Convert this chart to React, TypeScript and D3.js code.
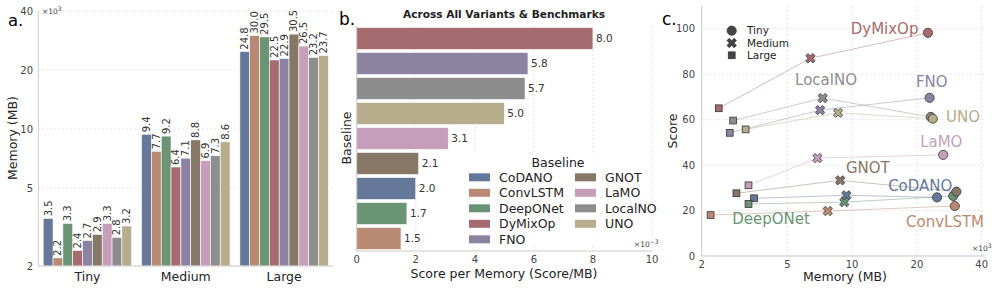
import * as d3 from "d3";

const models = ["CoDANO", "ConvLSTM", "DeepONet", "DyMixOp", "FNO", "GNOT", "LaMO", "LocalNO", "UNO"];
const colors = ["#66789a", "#b88a73", "#6b9474", "#a66b6e", "#8b83a1", "#877767", "#c59fba", "#8d8d8d", "#b5ad8b"];
const variants = ["Tiny", "Medium", "Large"];

// memory (x10^3 MB) per variant, same order as models
const memTiny = [3.5, 2.2, 3.3, 2.4, 2.7, 2.9, 3.3, 2.8, 3.2];
const memMedium = [9.4, 7.7, 9.2, 6.4, 7.1, 8.8, 6.9, 7.3, 8.6];
const memLarge = [24.8, 30.0, 29.5, 22.5, 22.9, 30.5, 26.5, 23.2, 23.7];

// score per memory (x10^-3), sorted
const effModels = ["DyMixOp", "FNO", "LocalNO", "UNO", "LaMO", "GNOT", "CoDANO", "DeepONet", "ConvLSTM"];
const effValues = [8.0, 5.8, 5.7, 5.0, 3.1, 2.1, 2.0, 1.7, 1.5];

// scores for panel c (points placed at tiny / medium / large memory)
const scoreAtTiny = [25.4, 18, 22.9, 65, 54.2, 27.6, 31.1, 59.6, 55.7];
const scoreAtMedium = [26.7, 19.8, 23.7, 87, 64.2, 33.3, 43.1, 69.5, 63];
const scoreAtLarge = [25.8, 22, 26.4, 98.2, 69.6, 28.3, 44.5, 61.2, 60.4];

// name labels in panel c: [model, memory, score]
const nameLabels: [string, number, number][] = [
  ["DyMixOp", 9.85, 99.9],
  ["LocalNO", 5.43, 77.4],
  ["FNO", 19.8, 76.7],
  ["UNO", 27.3, 61.2],
  ["LaMO", 20.7, 50.3],
  ["GNOT", 9.36, 38.7],
  ["CoDANO", 14.7, 30.8],
  ["DeepONet", 2.77, 16.3],
  ["ConvLSTM", 17.8, 15],
];

const logTicks = [2, 5, 10, 20, 40];
const effTicks = [0, 2, 4, 6, 8, 10];
const scoreTicks = [0, 20, 40, 60, 80, 100];

const FONT = "DejaVu Sans, sans-serif";
const GRID = "#e6e6e6";
const SPINE = "#cccccc";
const TICK = "#444";

const colorOf = (m: string) => colors[models.indexOf(m)];

function xMarker(s: number) {
  const a = s * 0.32;
  const L = s;
  const pts = [
    [a, L], [a, a], [L, a], [L, -a], [a, -a], [a, -L],
    [-a, -L], [-a, -a], [-L, -a], [-L, a], [-a, a], [-a, L],
  ];
  const c = Math.SQRT1_2;
  return "M" + pts.map(([x, y]) => `${(x - y) * c},${(x + y) * c}`).join("L") + "Z";
}

function Marker({ kind, x, y, fill }: { kind: number; x: number; y: number; fill: string }) {
  const st = { stroke: "#333", strokeWidth: 0.8, fill };
  if (kind === 0) return <circle cx={x} cy={y} r={4.6} {...st} />;
  if (kind === 1) return <path d={xMarker(5)} transform={`translate(${x},${y})`} {...st} />;
  return <rect x={x - 3.4} y={y - 3.4} width={6.8} height={6.8} {...st} />;
}

function PanelA() {
  const y = d3.scaleLog().domain([2, 40]).range([266, 11]);
  const x0 = d3.scaleBand().domain(variants).range([38.3, 333.3]);
  const x1 = d3.scaleBand().domain(models).range([0.05 * x0.bandwidth(), 0.95 * x0.bandwidth()]);
  const mem = [memTiny, memMedium, memLarge];
  return (
    <g>
      <text x={8} y={26} fontSize={16.5} fontFamily={FONT}>a.</text>
      {logTicks.map((t) => (
        <g key={t}>
          <line x1={38.3} x2={333} y1={y(t)} y2={y(t)} stroke={GRID} strokeDasharray="2,2" />
          <text x={33} y={y(t)} dy="0.35em" textAnchor="end" fontSize={10} fill={TICK} fontFamily={FONT}>{t}</text>
        </g>
      ))}
      <text x={42} y={14} fontSize={7.5} fill={TICK} fontFamily={FONT}>×10<tspan dy={-3} fontSize={6}>3</tspan></text>
      {variants.map((v, vi) =>
        models.map((m, mi) => {
          const val = mem[vi][mi];
          const bx = x0(v)! + x1(m)!;
          return (
            <g key={v + m}>
              <rect x={bx} y={y(val)} width={x1.bandwidth()} height={266 - y(val)} fill={colors[mi]} stroke="#fff" strokeWidth={0.6} />
              <text transform={`translate(${bx + x1.bandwidth() / 2},${y(val) - 2}) rotate(-90)`} dy="0.35em" fontSize={10} fill="#333" fontFamily={FONT}>{val.toFixed(1)}</text>
            </g>
          );
        })
      )}
      <line x1={38.3} x2={38.3} y1={11} y2={266} stroke={SPINE} />
      <line x1={38.3} x2={333} y1={266} y2={266} stroke={SPINE} />
      {variants.map((v) => (
        <text key={v} x={x0(v)! + x0.bandwidth() / 2} y={281} textAnchor="middle" fontSize={12.5} fill="#222" fontFamily={FONT}>{v}</text>
      ))}
      <text transform="translate(17,138) rotate(-90)" textAnchor="middle" fontSize={12.5} fill="#222" fontFamily={FONT}>Memory (MB)</text>
    </g>
  );
}

function PanelB() {
  const x = d3.scaleLinear().domain([0, 10]).range([356.7, 652]);
  const y = d3.scaleBand().domain(effModels).range([26, 251]).paddingInner(0.12).paddingOuter(0.06);
  const legendRows = 5;
  return (
    <g>
      <text x={339} y={25} fontSize={17} fontFamily={FONT}>b.</text>
      <text x={504} y={18} textAnchor="middle" fontSize={10.6} fontWeight="bold" fill="#222" fontFamily={FONT}>Across All Variants &amp; Benchmarks</text>
      {effTicks.map((t) => (
        <g key={t}>
          <line x1={x(t)} x2={x(t)} y1={26} y2={251} stroke={GRID} strokeDasharray="2,2" />
          <text x={x(t)} y={263} textAnchor="middle" fontSize={10} fill={TICK} fontFamily={FONT}>{t}</text>
        </g>
      ))}
      {effModels.map((m, i) => (
        <g key={m}>
          <rect x={x(0)} y={y(m)!} width={x(effValues[i]) - x(0)} height={y.bandwidth()} fill={colorOf(m)} stroke="#fff" strokeWidth={0.6} />
          <text x={x(effValues[i]) + 3} y={y(m)! + y.bandwidth() / 2} dy="0.35em" fontSize={10.5} fill="#333" fontFamily={FONT}>{effValues[i].toFixed(1)}</text>
        </g>
      ))}
      <line x1={x(0)} x2={x(0)} y1={26} y2={251} stroke={SPINE} />
      <line x1={x(0)} x2={652} y1={251} y2={251} stroke={SPINE} />
      <text x={504} y={278} textAnchor="middle" fontSize={12.5} fill="#222" fontFamily={FONT}>Score per Memory (Score/MB)</text>
      <text transform="translate(351,138) rotate(-90)" textAnchor="middle" fontSize={12.5} fill="#222" fontFamily={FONT}>Baseline</text>
      <rect x={462} y={151} width={188} height={94} fill="#fff" opacity={0.9} />
      <text x={558} y={167} textAnchor="middle" fontSize={12.5} fill="#222" fontFamily={FONT}>Baseline</text>
      {models.map((m, i) => {
        const col = Math.floor(i / legendRows);
        const row = i % legendRows;
        const lx = col === 0 ? 469 : 575;
        const ly = 177.3 + row * 15.5;
        return (
          <g key={m}>
            <rect x={lx} y={ly - 4} width={21} height={8} fill={colors[i]} />
            <text x={lx + 30} y={ly} dy="0.35em" fontSize={12.5} fill="#222" fontFamily={FONT}>{m}</text>
          </g>
        );
      })}
      <text x={634} y={247} fontSize={7.5} fill={TICK} fontFamily={FONT}>×10<tspan dy={-3} fontSize={6}>−3</tspan></text>
    </g>
  );
}

function PanelC() {
  const x = d3.scaleLog().domain([2, 40]).range([701.7, 981.7]);
  const y = d3.scaleLinear().domain([0, 110]).range([256, 6]);
  const mems = [memTiny, memMedium, memLarge];
  const scores = [scoreAtTiny, scoreAtMedium, scoreAtLarge];
  // marker kind: 0 circle, 1 X, 2 square -> tiny memory drawn as square, large as circle
  const kindAt = [2, 1, 0];
  const line = d3.line<[number, number]>().x((d) => x(d[0])).y((d) => y(d[1]));
  return (
    <g>
      <text x={662} y={25} fontSize={17} fontFamily={FONT}>c.</text>
      {scoreTicks.map((t) => (
        <g key={t}>
          <line x1={701.7} x2={985} y1={y(t)} y2={y(t)} stroke={GRID} strokeDasharray="2,2" />
          <text x={695} y={y(t)} dy="0.35em" textAnchor="end" fontSize={10} fill={TICK} fontFamily={FONT}>{t}</text>
        </g>
      ))}
      {logTicks.map((t) => (
        <g key={t}>
          <line x1={x(t)} x2={x(t)} y1={6} y2={256} stroke={GRID} strokeDasharray="2,2" />
          <text x={x(t)} y={268} textAnchor="middle" fontSize={10} fill={TICK} fontFamily={FONT}>{t}</text>
        </g>
      ))}
      <line x1={701.7} x2={701.7} y1={6} y2={256} stroke={SPINE} />
      <line x1={701.7} x2={985} y1={256} y2={256} stroke={SPINE} />
      <text x={972} y={251} fontSize={7.5} fill={TICK} fontFamily={FONT}>×10<tspan dy={-3} fontSize={6}>3</tspan></text>
      {models.map((m, i) => (
        <path key={m} d={line([0, 1, 2].map((v) => [mems[v][i], scores[v][i]] as [number, number]))!} fill="none" stroke={colors[i]} strokeOpacity={0.45} strokeWidth={1} />
      ))}
      {models.map((m, i) =>
        [0, 1, 2].map((v) => (
          <Marker key={m + v} kind={kindAt[v]} x={x(mems[v][i])} y={y(scores[v][i])} fill={colors[i]} />
        ))
      )}
      {nameLabels.map(([m, mx, sy]) => (
        <text key={m} x={x(mx)} y={y(sy)} dy="0.35em" fontSize={15} fill={colorOf(m)} fontFamily={FONT}>{m}</text>
      ))}
      {variants.map((v, i) => (
        <g key={v}>
          <Marker kind={i} x={731.7} y={30.7 + i * 12.3} fill="#444" />
          <text x={747} y={30.7 + i * 12.3} dy="0.35em" fontSize={10.5} fill="#222" fontFamily={FONT}>{v}</text>
        </g>
      ))}
      <text x={845} y={281} textAnchor="middle" fontSize={12.5} fill="#222" fontFamily={FONT}>Memory (MB)</text>
      <text transform="translate(677,131) rotate(-90)" textAnchor="middle" fontSize={12.5} fill="#222" fontFamily={FONT}>Score</text>
    </g>
  );
}

export default function App() {
  return (
    <svg width={996} height={288} style={{ position: "absolute", left: 0, top: 0, background: "#fff" }}>
      <rect width={996} height={288} fill="#fff" />
      <PanelA />
      <PanelB />
      <PanelC />
    </svg>
  );
}
